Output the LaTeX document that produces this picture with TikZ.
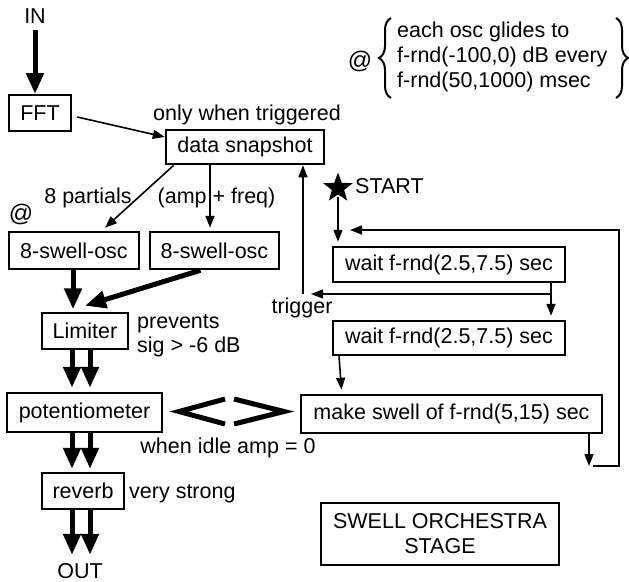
\documentclass[tikz,border=0pt]{standalone}
\usepackage{fontspec}
\setmainfont{Liberation Sans}
\usetikzlibrary{arrows.meta,shapes.geometric,decorations.pathreplacing,calc}
\begin{document}
\begin{tikzpicture}[x=1pt,y=-1pt,
 font=\fontsize{21.5}{25}\selectfont,
 box/.style={draw,line width=2.5pt,inner sep=0pt},
 lbl/.style={inner sep=0pt,anchor=base},
 lblw/.style={inner sep=0pt,anchor=base west},
 fat/.style={line width=5pt,-{Triangle[length=21pt,width=17pt]}},
 thinarr/.style={line width=1.6pt,-{Triangle[length=12pt,width=9pt]}},
 chev/.style={line width=5pt,line join=miter},
 bracestyle/.style={line width=2pt,decorate,decoration={brace,amplitude=12pt}},
]
\useasboundingbox (0,0) rectangle (629,581);

% boxes
\node[box,minimum width=62pt,minimum height=36pt] (fft) at (40,113) {FFT};
\node[box,minimum width=158pt,minimum height=34pt] (ds) at (245,147) {data snapshot};
\node[box,minimum width=130pt,minimum height=37pt] (osc1) at (74,250.5) {8-swell-osc};
\node[box,minimum width=129pt,minimum height=37pt] (osc2) at (214.5,250.5) {8-swell-osc};
\node[box,minimum width=86pt,minimum height=36pt] (lim) at (85,331) {Limiter};
\node[box,minimum width=155pt,minimum height=39pt] (pot) at (84.5,412.5) {potentiometer};
\node[box,minimum width=82pt,minimum height=36pt] (rev) at (83,491) {reverb};
\node[box,minimum width=232pt,minimum height=35pt] (w1) at (449,264.5) {wait f-rnd(2.5,7.5) sec};
\node[box,minimum width=232pt,minimum height=34pt] (w2) at (449,338) {wait f-rnd(2.5,7.5) sec};
\node[box,minimum width=301pt,minimum height=38pt] (ms) at (451.5,414) {make swell of f-rnd(5,15) sec};
\node[box,minimum width=238pt,minimum height=62pt,align=center,font=\fontsize{21.5}{25}\selectfont] (stage) at (440,534) {SWELL ORCHESTRA\\STAGE};

% labels
\node[lbl] (in) at (35,23) {IN};
\node[lbl] (out) at (80,578) {OUT};
\node[lbl] (trig) at (247,120) {only when triggered};
\node[lbl] (part) at (88,203) {8 partials};
\node[lbl] (ampf) at (216.5,203) {(amp + freq)};
\node[lbl,font=\fontsize{24}{28}\selectfont] (at1) at (21,221) {@};
\node[lbl,font=\fontsize{24}{28}\selectfont] (at2) at (360,68) {@};
\node[lblw] (b1) at (397,37) {each osc glides to};
\node[lblw] (b2) at (397,62) {f-rnd(-100,0) dB every};
\node[lblw] (b3) at (397,87) {f-rnd(50,1000) msec};
\node[star,star points=5,star point ratio=2.4,fill,inner sep=0pt,minimum size=31pt] (star) at (338,188) {};
\node[lblw] (start) at (355,193) {START};
\node[lbl] (trg) at (302,313) {trigger};
\node[lblw] (prev1) at (137,328) {prevents};
\node[lblw] (prev2) at (137,352) {sig > -6 dB};
\node[lbl] (idle) at (228,453) {when idle amp = 0};
\node[lblw] (strong) at (129,498) {very strong};

% braces
\draw[bracestyle] (391,98) -- (391,18);
\draw[bracestyle] (616,18) -- (616,98);

% coordinates
\coordinate (L1) at (72,0);
\coordinate (L2) at (90,0);
\coordinate (tx) at (551,294);
\coordinate (tc) at (303,294);
\coordinate (lb) at (589,466);
\coordinate (lr) at (619,466);
\coordinate (lt) at (619,230);
\coordinate (fb) at (350,230);

% thick arrows
\draw[fat] (in.south |- 0,30) -- (in.south |- 0,94);
\draw[fat] (osc1.south -| 73,0) -- ($(osc1.south -| 73,0) + (0,39)$);
\draw[fat] ([xshift=-14pt]osc2.south) -- ([yshift=6pt]lim.north);
\draw[fat] (L1 |- lim.south) -- ($(L1 |- pot.north)+(0,-4)$);
\draw[fat] (L2 |- lim.south) -- ($(L2 |- pot.north)+(0,-4)$);
\draw[fat] (L1 |- pot.south) -- ($(L1 |- rev.north)+(0,-3)$);
\draw[fat] (L2 |- pot.south) -- ($(L2 |- rev.north)+(0,-3)$);
\draw[fat] (L1 |- rev.south) -- ($(L1 |- out.north)+(0,-8)$);
\draw[fat] (L2 |- rev.south) -- ($(L2 |- out.north)+(0,-8)$);

% thin arrows
\draw[thinarr] ([xshift=5pt,yshift=-4pt]fft.east) -- ([yshift=10pt]ds.west);
\draw[thinarr] ([xshift=9pt]ds.south west) -- ([xshift=31pt,yshift=3pt]osc1.north);
\draw[thinarr] ([xshift=-4.5pt]osc2.north |- ds.south) -- ([xshift=-4.5pt,yshift=3pt]osc2.north);
\draw[thinarr] ([yshift=-2pt]star.south) -- ([yshift=4pt]star.south |- w1.north);
\draw[thinarr] (tx |- w1.south) -- ([yshift=4pt]tx |- w2.north);
\draw[thinarr,shorten >=8pt] (tx) -- (tc);
\draw[thinarr] (tc) -- (tc |- ds.south);
\draw[thinarr] ([xshift=-110pt]w2.south) -- ([xshift=-110pt,yshift=4pt]ms.north);
\draw[thinarr] (lb |- ms.south) -- (lb);
\draw[thinarr] ([xshift=4pt]lb) -- (lr) -- (lt) -- (fb);

% chevrons between potentiometer and make swell
\draw[chev] (225,399) -- (179,411.5) -- (225,424);
\draw[chev] (234,399) -- (284,411.5) -- (234,424);
\end{tikzpicture}
\end{document}
